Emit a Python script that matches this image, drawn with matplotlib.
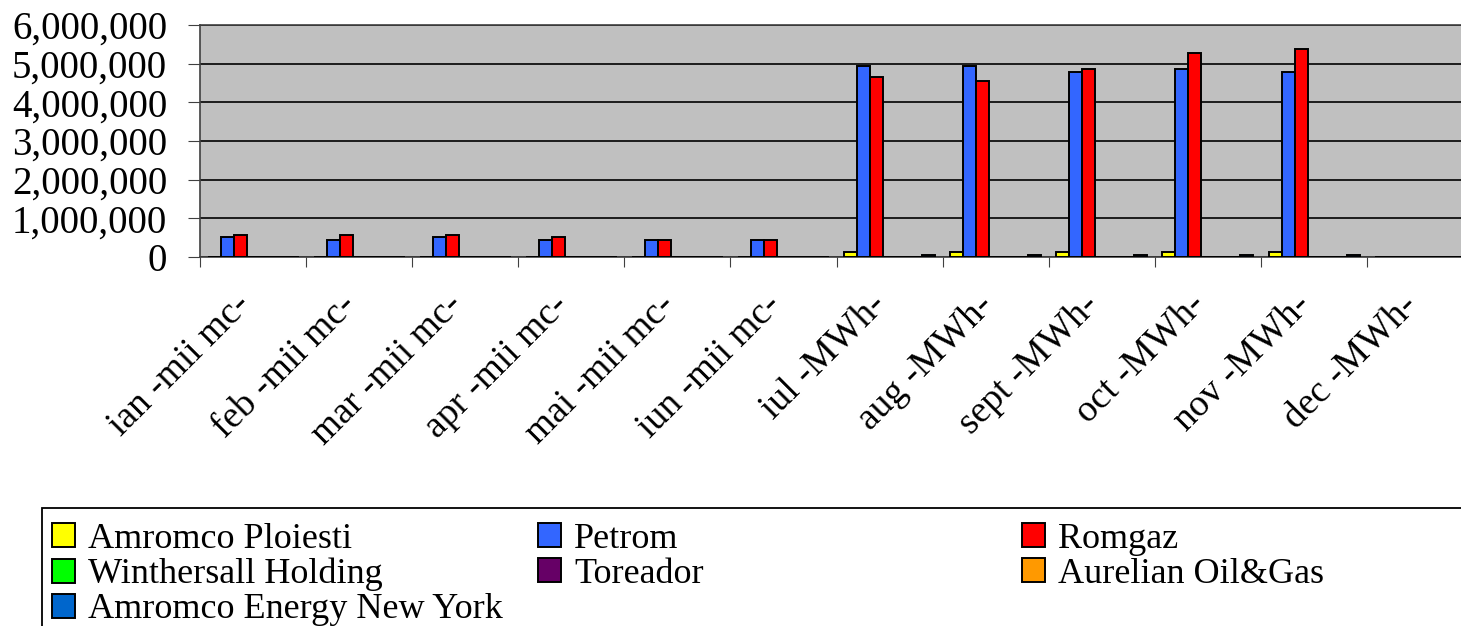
import numpy as np
import matplotlib
matplotlib.use("Agg")
import matplotlib.pyplot as plt
from matplotlib.patches import Rectangle
from matplotlib.ticker import FuncFormatter
from matplotlib.transforms import ScaledTranslation

plt.rcParams['font.family'] = ['Liberation Serif', 'DejaVu Serif']

# categorii
luni = ["ian -mii mc-", "feb -mii mc-", "mar -mii mc-", "apr -mii mc-",
        "mai -mii mc-", "iun -mii mc-", "iul -MWh-", "aug -MWh-",
        "sept -MWh-", "oct -MWh-", "nov -MWh-", "dec -MWh-"]

# valori
amromco_ploiesti = [0, 0, 0, 0, 0, 0, 130000, 130000, 130000, 130000, 130000, 0]
petrom = [505000, 445000, 505000, 445000, 445000, 445000,
          4950000, 4950000, 4790000, 4850000, 4790000, 0]
romgaz = [575000, 575000, 575000, 505000, 445000, 445000,
          4660000, 4540000, 4850000, 5280000, 5390000, 0]
winthersall = [0] * 12
toreador = [0] * 12
aurelian = [0] * 12
amromco_ny = [0, 0, 0, 0, 0, 0, 60000, 60000, 60000, 60000, 60000, 0]

serii = ["Amromco Ploiesti", "Petrom", "Romgaz", "Winthersall Holding",
         "Toreador", "Aurelian Oil&Gas", "Amromco Energy New York"]
valori = [amromco_ploiesti, petrom, romgaz, winthersall, toreador, aurelian, amromco_ny]
culori = ["#FFFF00", "#3366FF", "#FF0000", "#00FF00", "#660066", "#FF9900", "#0066CC"]

W, H = 1461, 626
fig = plt.figure(figsize=(W / 100, H / 100), dpi=100)
ax = fig.add_axes([200 / W, 1 - 257 / H, 12 * 106.1 / W, (257 - 25) / H])
ax.set_facecolor("#C0C0C0")

x = np.arange(len(luni))
lat = 0.1226
handles = []
for i, (nume, v, c) in enumerate(zip(serii, valori, culori)):
    off = (i - 3) * lat
    b = ax.bar(x + off, v, lat, color=c, edgecolor="black", linewidth=1.4, label=nume, zorder=3)
    handles.append(b)

ax.set_xlim(-0.5, len(luni) - 0.5)
ax.set_ylim(0, 6000000)
ax.set_yticks(np.arange(0, 6000001, 1000000))
ax.yaxis.set_major_formatter(FuncFormatter(lambda v, p: f"{int(v):,}"))
ax.grid(axis="y", color="black", linewidth=1.2, zorder=1)

ax.set_xticks(np.arange(-0.5, len(luni), 1))
ax.set_xticklabels([])
ax.set_xticks(x, minor=True)
ax.set_xticklabels(luni, minor=True, rotation=45, ha="right", rotation_mode="anchor", fontsize=27)
ax.tick_params(axis="x", which="minor", length=0, pad=12)
ax.tick_params(axis="x", which="major", length=7.5, color="#404040")
ax.tick_params(axis="y", labelsize=28, length=8.6, color="#404040", pad=15)
muta = ScaledTranslation(-20 / 100, -14 / 100, fig.dpi_scale_trans)
for lab in ax.get_xticklabels(minor=True):
    lab.set_transform(lab.get_transform() + muta)
for s in ax.spines.values():
    s.set_color("#404040")
    s.set_linewidth(1.2)

# legenda, randuri ca in Excel
fig.patches.append(Rectangle((42 / W, -0.05), 1.1, 1 - 508 / H + 0.05,
                             transform=fig.transFigure, fill=False,
                             edgecolor="black", linewidth=1.3))
coloane = [[0, 3, 6], [1, 4], [2, 5]]
xpoz = [52, 538, 1022]
for col, xp in zip(coloane, xpoz):
    fig.legend([handles[k] for k in col], [serii[k] for k in col],
               loc="upper left", bbox_to_anchor=(xp / W, 1 - 523 / H),
               frameon=False, fontsize=26, handlelength=0.65, handleheight=0.65,
               handletextpad=0.35, labelspacing=0.055, borderpad=0, borderaxespad=0)

fig.savefig("out.png", dpi=100)
